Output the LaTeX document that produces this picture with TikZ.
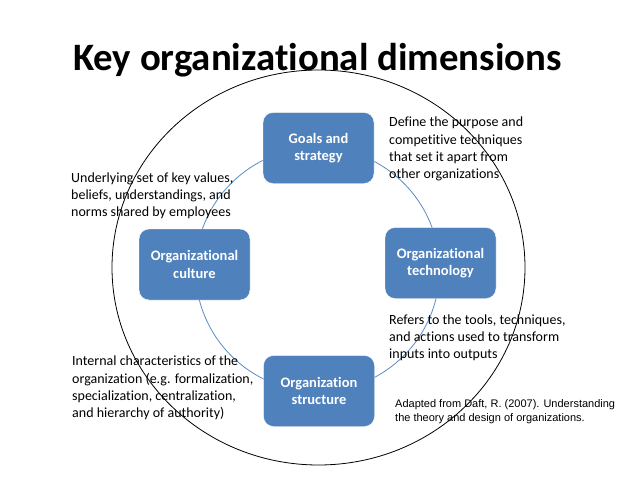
\documentclass[tikz,border=0pt]{standalone}
\usepackage{fontspec}
\setmainfont{Carlito}[Ligatures=NoCommon]
\newfontfamily\arialfont{Liberation Sans}
\definecolor{boxblue}{HTML}{4F81BD}
\definecolor{ringblue}{HTML}{5A8AC2}

\begin{document}
\begin{tikzpicture}[
    x=1pt, y=-1pt,
    dimbox/.style={fill=boxblue, draw=white, rounded corners=10pt, minimum width=111pt,
        minimum height=71pt, text=white, align=center,
        font=\fontsize{14.5}{17.5}\selectfont\bfseries},
    note/.style={anchor=west, align=left, inner sep=0pt,
        font=\fontsize{14}{17.2}\selectfont},
    source/.style={anchor=west, align=left, inner sep=0pt,
        font=\arialfont\fontsize{11}{14}\selectfont}
]
    \useasboundingbox (0,0) rectangle (638,479);

    % ring and outer ellipse
    \draw[ringblue, line width=0.8pt] (317.5,269.5) circle (122);
    \draw[black, line width=0.8pt] (318.5,267.5) ellipse (206.5 and 197.5);

    \node[anchor=base, inner sep=0pt, font=\fontsize{38.8}{46}\selectfont\bfseries]
        (title) at (317.5,70) {Key organizational dimensions};

    % the four dimensions
    \node[dimbox] (goals)   at (318.5,148) {Goals and\\strategy};
    \node[dimbox] (tech)    at (440.5,263) {Organizational\\technology};
    \node[dimbox] (struct)  at (319,391)   {Organization\\structure};
    \node[dimbox] (culture) at (194.5,264.5) {Organizational\\culture};

    % descriptions
    \node[note] (goalsnote) at (389,149) {Define the purpose and\\competitive techniques\\that set it apart from\\other organizations};
    \node[note] (culturenote) at (71,196) {Underlying set of key values,\\beliefs, understandings, and\\norms shared by employees};
    \node[note] (technote) at (389,337.5) {Refers to the tools, techniques,\\and actions used to transform\\inputs into outputs};
    \node[note] (structnote) at (72,388) {Internal characteristics of the\\organization (e.g. formalization,\\specialization, centralization,\\and hierarchy of authority)};

    \node[source] (daft) at (395,412) {Adapted from Daft, R. (2007). Understanding\\the theory and design of organizations.};
\end{tikzpicture}
\end{document}
